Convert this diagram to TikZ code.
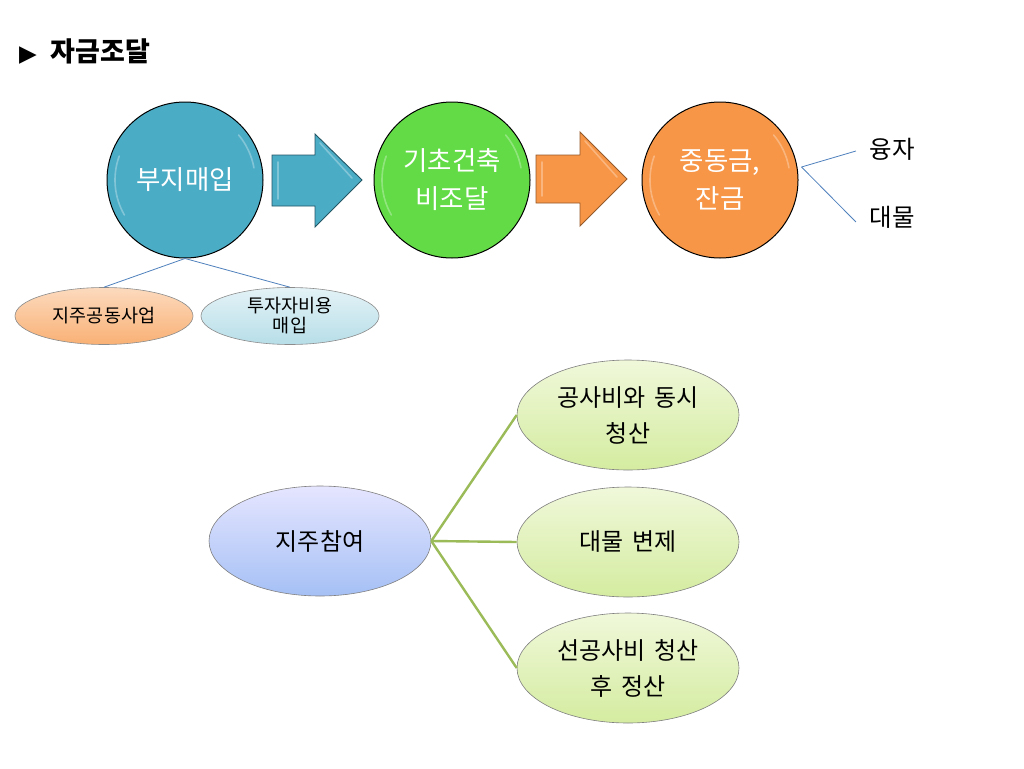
\documentclass[tikz,border=0pt]{standalone}
\usepackage{fontspec}
\setmainfont{Noto Sans CJK KR}
\newfontfamily\symfont{DejaVu Sans}
\usetikzlibrary{shapes.geometric}
\definecolor{teal1}{HTML}{4BACC6}
\definecolor{teal2}{HTML}{3A8FA8}
\definecolor{green1}{HTML}{62DB46}
\definecolor{orange1}{HTML}{F79646}
\definecolor{lineblue}{HTML}{4F81BD}
\definecolor{linegreen}{HTML}{9BBB59}
\tikzset{
  bigcircle/.style={circle, draw=black, line width=1pt, minimum size=156pt, inner sep=0pt,
    text=white, font=\fontsize{26.5}{38}\selectfont, align=center},
  smallell/.style={ellipse, draw=black!45, line width=0.6pt, minimum width=178pt, minimum height=57pt,
    inner sep=0pt, align=center, font=\fontsize{18.5}{20}\selectfont},
  bigell/.style={ellipse, draw=black!50, line width=0.6pt, minimum width=222pt, minimum height=110pt,
    inner sep=0pt, align=center, font=\fontsize{24}{36}\selectfont},
  thinline/.style={draw=lineblue, line width=0.8pt},
  greenline/.style={draw=linegreen, line width=2.4pt},
  sidelabel/.style={font=\fontsize{24.5}{26}\selectfont, anchor=center},
  gloss/.style={draw=white, opacity=0.3, line width=1.6pt, line cap=round}
}
\begin{document}
\begin{tikzpicture}[x=1pt,y=-1pt]
\useasboundingbox (0,0) rectangle (1024,768);
\fill[white] (0,0) rectangle (1024,768);

% title
\node[anchor=west, inner sep=0pt] (title) at (19,52) {{\symfont\fontsize{23}{24}\selectfont ▶}\hspace{14pt}{\bfseries\fontsize{27}{30}\selectfont 자금조달}};

% circles
\node[bigcircle, fill=teal1] (c1) at (185,180) {부지매입};
\node[bigcircle, fill=green1] (c2) at (452,180) {기초건축\\비조달};
\node[bigcircle, fill=orange1] (c3) at (720,180) {중동금,\\잔금};

% gloss highlights
\draw[gloss] (185,180) ++(200:70) arc (200:150:70);
\draw[gloss] (185,180) ++(-10:70) arc (-10:-40:70);
\draw[gloss] (452,180) ++(200:70) arc (200:150:70);
\draw[gloss] (452,180) ++(-10:70) arc (-10:-40:70);
\draw[gloss] (720,180) ++(200:70) arc (200:150:70);
\draw[gloss] (720,180) ++(-10:70) arc (-10:-40:70);

% arrows
\draw[draw=teal2!60!black, line width=0.9pt, fill=teal1]
  (272,155) -- (315,155) -- (315,134) -- (362,180) -- (315,227) -- (315,206) -- (272,206) -- cycle;
\draw[gloss] (278,162) -- (278,199);
\draw[gloss] (320,143) -- (352,178);
\draw[draw=orange1!60!black, line width=0.9pt, fill=orange1]
  (536,155) -- (580,155) -- (580,132) -- (627,179) -- (580,226) -- (580,203) -- (536,203) -- cycle;
\draw[gloss] (542,162) -- (542,196);
\draw[gloss] (585,141) -- (617,177);

% side labels
\node[sidelabel] (t1) at (892,149) {융자};
\node[sidelabel] (t2) at (892,217) {대물};
\path (c3.east) ++(3,-13) coordinate (c3a);
\draw[thinline] (c3a) -- ([xshift=-10pt,yshift=-2pt]t1.west);
\draw[thinline] (c3a) -- ([xshift=-10pt,yshift=-5pt]t2.west);

% small ellipses
\node[smallell, top color=orange1!35, bottom color=orange1!75] (e1) at (104,316) {지주공동사업};
\node[smallell, top color=teal1!15, bottom color=teal1!40] (e2) at (290,316) {투자자비용\\매입};
\draw[thinline] (c1.south) -- (e1.north);
\draw[thinline] (c1.south) -- (e2.north);

% bottom tree
\node[bigell, top color=blue!10!white, bottom color={rgb,255:red,165;green,192;blue,245}] (p) at (320,541) {지주참여};
\node[bigell, top color={rgb,255:red,240;green,248;blue,218}, bottom color={rgb,255:red,212;green,236;blue,160}] (g1) at (628,415) {공사비와\hspace{4pt} 동시\\청산};
\node[bigell, top color={rgb,255:red,240;green,248;blue,218}, bottom color={rgb,255:red,212;green,236;blue,160}] (g2) at (628,542) {대물\hspace{4pt} 변제};
\node[bigell, top color={rgb,255:red,240;green,248;blue,218}, bottom color={rgb,255:red,212;green,236;blue,160}] (g3) at (628,668) {선공사비\hspace{4pt} 청산\\후\hspace{4pt} 정산};
\draw[greenline] (p.east) -- (g1.west);
\draw[greenline] (p.east) -- (g2.west);
\draw[greenline] (p.east) -- (g3.west);
\end{tikzpicture}
\end{document}
